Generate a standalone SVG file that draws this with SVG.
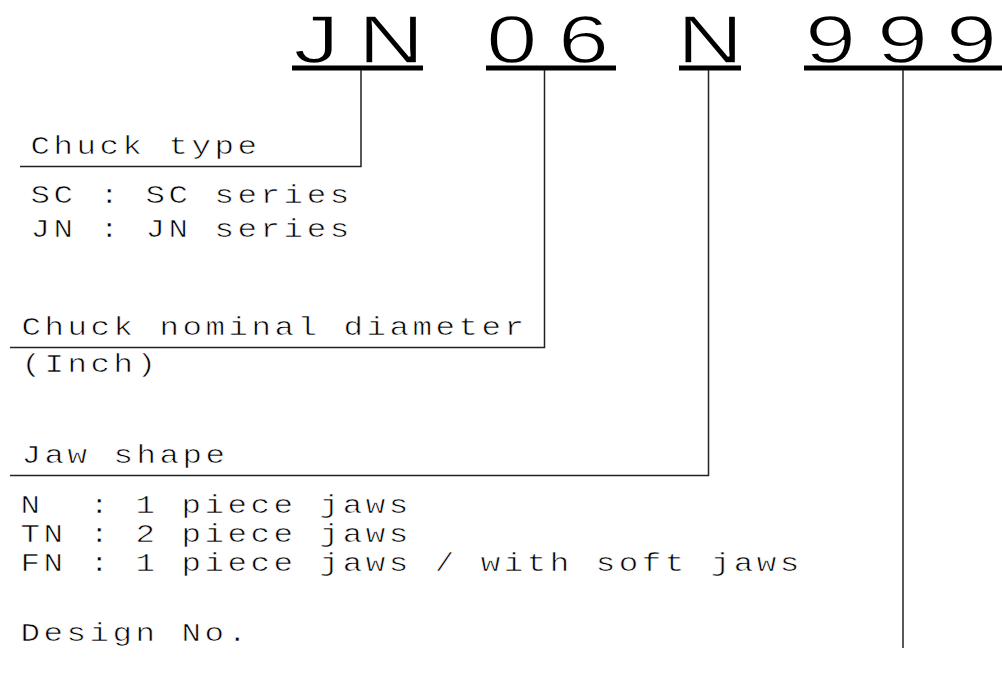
<svg xmlns="http://www.w3.org/2000/svg" width="1002" height="676" viewBox="0 0 1002 676">
<style>
  .code { font-family: "Liberation Sans", Arial, sans-serif; font-size: 68px; fill: #000; stroke: #fff; stroke-width: 1.4px; }
  .t { font-family: "Liberation Mono", "DejaVu Sans Mono", monospace; font-size: 25px; letter-spacing: 2.7px; fill: #000; stroke: #fff; stroke-width: 0.6px; white-space: pre; }
  .ul { fill: #000; }
  .ln { fill: none; stroke: #222; stroke-width: 1.5; }
</style>
<rect width="1002" height="676" fill="#fff"/>
<g id="code-JN">
  <text class="code" transform="translate(0,62.5) scale(1.35,1)" x="217.5 265.2" y="0">JN</text>
  <rect class="ul" x="292" y="65.5" width="131" height="5"/>
</g>
<g id="code-06">
  <text class="code" transform="translate(0,62.5) scale(1.35,1)" x="360.1 413.4" y="0">06</text>
  <rect class="ul" x="486" y="65.5" width="130" height="5"/>
</g>
<g id="code-N">
  <text class="code" transform="translate(0,62.5) scale(1.35,1)" x="501.5" y="0">N</text>
  <rect class="ul" x="679" y="65.5" width="62" height="5"/>
</g>
<g id="code-999">
  <text class="code" transform="translate(0,62.5) scale(1.35,1)" x="596.4 649.7 700.8" y="0">999</text>
  <rect class="ul" x="804" y="65.5" width="198" height="5"/>
</g>
<g id="connectors">
  <path class="ln" d="M361 70 V166.5 H20"/>
  <path class="ln" d="M544.5 70 V347.5 H10"/>
  <path class="ln" d="M708.5 70 V475.5 H10"/>
  <path class="ln" d="M903 70 V648"/>
</g>
<g id="chuck-type" transform="scale(1.3,1)">
  <text class="t" x="23.5" y="154">Chuck type</text>
  <text class="t" x="23.5" y="203">SC : SC series</text>
  <text class="t" x="23.5" y="237">JN : JN series</text>
</g>
<g id="chuck-diameter" transform="scale(1.3,1)">
  <text class="t" x="16.5" y="335">Chuck nominal diameter</text>
  <text class="t" x="16.5" y="372">(Inch)</text>
</g>
<g id="jaw-shape" transform="scale(1.3,1)">
  <text class="t" x="16.5" y="463">Jaw shape</text>
  <text class="t" x="15.8" y="513">N  : 1 piece jaws</text>
  <text class="t" x="15.8" y="542">TN : 2 piece jaws</text>
  <text class="t" x="15.8" y="571">FN : 1 piece jaws / with soft jaws</text>
</g>
<g id="design-no" transform="scale(1.3,1)">
  <text class="t" x="15.8" y="641">Design No.</text>
</g>
</svg>
